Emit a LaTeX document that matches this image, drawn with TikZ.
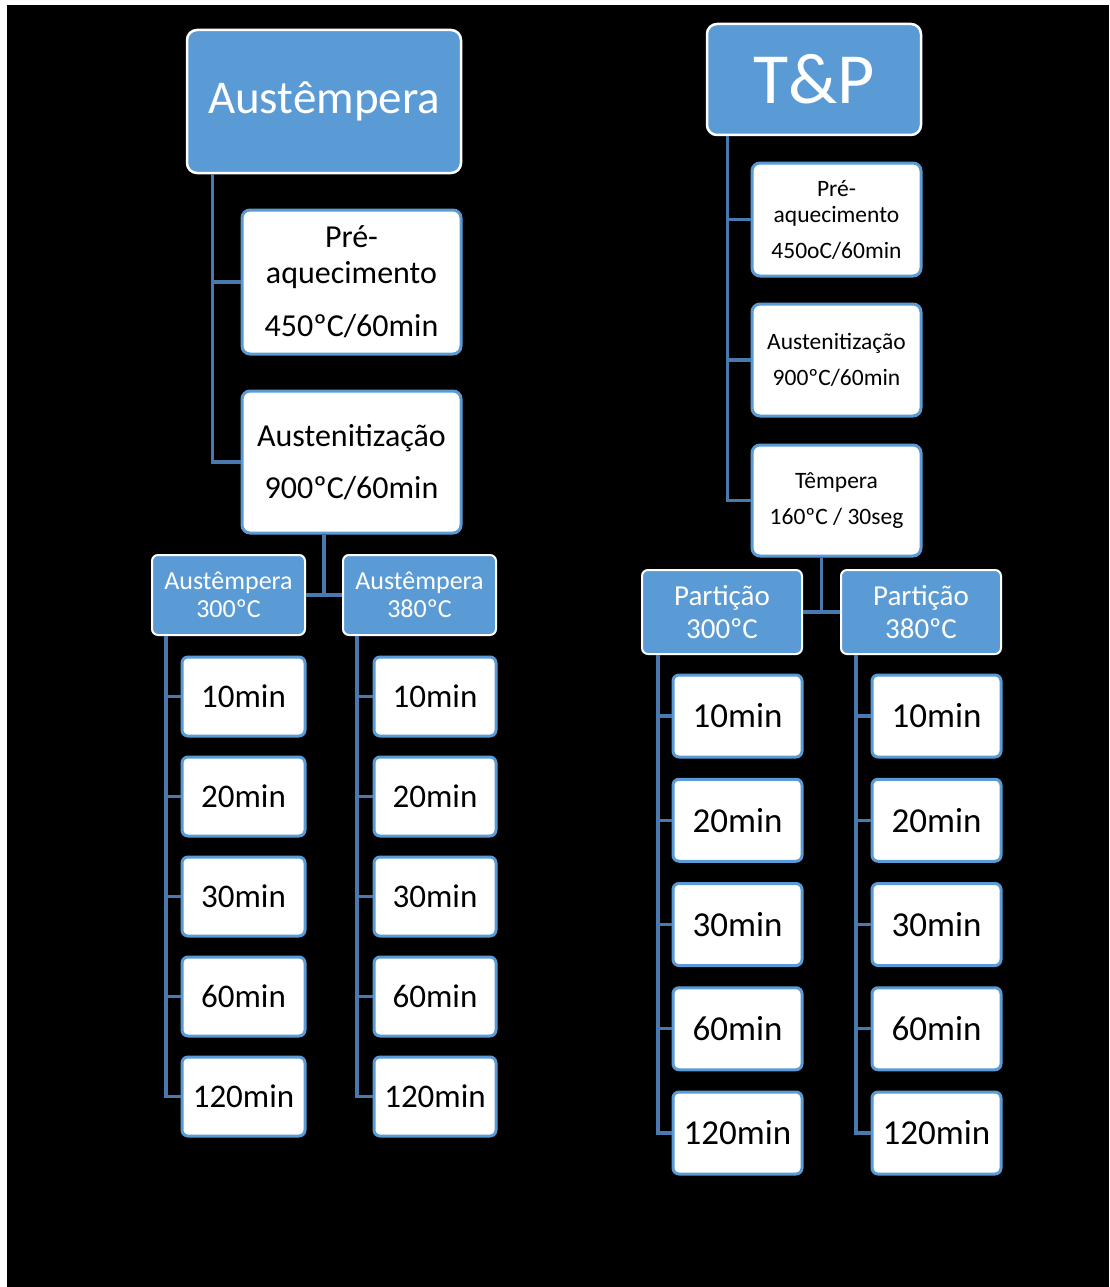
\documentclass[tikz,border=0pt]{standalone}
\usepackage{fontspec}
\setmainfont{Carlito}
\usetikzlibrary{positioning, calc}
\definecolor{boxblue}{RGB}{91,155,213}
\definecolor{linkblue}{RGB}{72,122,176}

\begin{document}
\begin{tikzpicture}[x=1pt, y=-1pt,
    headbox/.style={rectangle, draw=white, fill=boxblue, line width=2.5pt, rounded corners=10pt, text=white, align=center, inner sep=0pt},
    groupbox/.style={rectangle, draw=white, fill=boxblue, line width=2pt, rounded corners=6pt, text=white, align=center, inner sep=0pt},
    stepbox/.style={rectangle, draw=boxblue, fill=white, line width=3pt, rounded corners=8pt, text=black, align=center, inner sep=0pt},
    ltime/.style={stepbox, rounded corners=6pt, minimum width=123pt, minimum height=79pt, font=\fontsize{33}{40}\selectfont},
    rtime/.style={stepbox, rounded corners=6pt, minimum width=129pt, minimum height=82pt, font=\fontsize{35}{42}\selectfont},
    link/.style={draw=linkblue, line width=3.2pt}
]
    % Background
    \useasboundingbox (0,0) rectangle (1109,1287);
    \fill[white] (0,0) rectangle (1109,1287);
    \fill[black] (7,5) rectangle (1109,1287);

    % Austempera tree
    \node[headbox, minimum width=274pt, minimum height=143pt, font=\fontsize{47}{56}\selectfont] (aus) at (324,101.5) {Austêmpera};
    \node[stepbox, minimum width=219pt, minimum height=144pt, font=\fontsize{32}{36}\selectfont] (apre) at (351.5,282) {Pré-\\aquecimento\\[17pt]450ºC/60min};
    \node[stepbox, minimum width=219pt, minimum height=142pt, font=\fontsize{32}{36}\selectfont] (aaus) at (351.5,462) {Austenitização\\[16pt]900ºC/60min};
    \node[groupbox, minimum width=153pt, minimum height=80pt, font=\fontsize{26}{28}\selectfont] (a300) at (228.5,595) {Austêmpera\\300ºC};
    \node[groupbox, minimum width=153pt, minimum height=80pt, font=\fontsize{26}{28}\selectfont] (a380) at (419.5,595) {Austêmpera\\380ºC};

    \node[ltime] (a300m10) at (243.5,696.5) {10min};
    \node[ltime, below of=a300m10, node distance=100pt] (a300m20) {20min};
    \node[ltime, below of=a300m20, node distance=100pt] (a300m30) {30min};
    \node[ltime, below of=a300m30, node distance=100pt] (a300m60) {60min};
    \node[ltime, below of=a300m60, node distance=100pt] (a300m120) {120min};

    \node[ltime, minimum width=122pt] (a380m10) at (435,696.5) {10min};
    \node[ltime, minimum width=122pt, below of=a380m10, node distance=100pt] (a380m20) {20min};
    \node[ltime, minimum width=122pt, below of=a380m20, node distance=100pt] (a380m30) {30min};
    \node[ltime, minimum width=122pt, below of=a380m30, node distance=100pt] (a380m60) {60min};
    \node[ltime, minimum width=122pt, below of=a380m60, node distance=100pt] (a380m120) {120min};

    % T&P tree
    \node[headbox, minimum width=214pt, minimum height=111pt, font=\fontsize{72}{80}\selectfont] (tp) at (814,79.5) {T\&P};
    \node[stepbox, minimum width=169pt, minimum height=113pt, font=\fontsize{23.5}{26}\selectfont] (tpre) at (836.5,219.5) {Pré-\\aquecimento\\[10pt]450oC/60min};
    \node[stepbox, minimum width=169pt, minimum height=112pt, font=\fontsize{23.5}{26}\selectfont] (taus) at (836.5,360) {Austenitização\\[10pt]900ºC/60min};
    \node[stepbox, minimum width=169pt, minimum height=111pt, font=\fontsize{23.5}{26}\selectfont] (ttem) at (836.5,500.5) {Têmpera\\[10pt]160ºC / 30seg};
    \node[groupbox, minimum width=160pt, minimum height=84pt, font=\fontsize{29}{33}\selectfont] (p300) at (722,612) {Partição\\300ºC};
    \node[groupbox, minimum width=160pt, minimum height=84pt, font=\fontsize{29}{33}\selectfont] (p380) at (921,612) {Partição\\380ºC};

    \node[rtime] (p300m10) at (737.5,716) {10min};
    \node[rtime, below of=p300m10, node distance=104.25pt] (p300m20) {20min};
    \node[rtime, below of=p300m20, node distance=104.25pt] (p300m30) {30min};
    \node[rtime, below of=p300m30, node distance=104.25pt] (p300m60) {60min};
    \node[rtime, below of=p300m60, node distance=104.25pt] (p300m120) {120min};

    \node[rtime] (p380m10) at (936.5,716) {10min};
    \node[rtime, below of=p380m10, node distance=104.25pt] (p380m20) {20min};
    \node[rtime, below of=p380m20, node distance=104.25pt] (p380m30) {30min};
    \node[rtime, below of=p380m30, node distance=104.25pt] (p380m60) {60min};
    \node[rtime, below of=p380m60, node distance=104.25pt] (p380m120) {120min};

    % Connectors
    \draw[link] ([xshift=27pt]aus.south west) |- (apre.west);
    \draw[link] ([xshift=27pt]aus.south west) |- (aaus.west);
    \coordinate (amid) at ($(a300.east)!.5!(a380.west)$);
    \draw[link] (a300.east) -- (a380.west);
    \draw[link] (amid) -- (amid |- aaus.south);
    \draw[link] ([xshift=15pt]a300.south west) |- (a300m10.west);
    \draw[link] ([xshift=15pt]a300.south west) |- (a300m20.west);
    \draw[link] ([xshift=15pt]a300.south west) |- (a300m30.west);
    \draw[link] ([xshift=15pt]a300.south west) |- (a300m60.west);
    \draw[link] ([xshift=15pt]a300.south west) |- (a300m120.west);
    \draw[link] ([xshift=15pt]a380.south west) |- (a380m10.west);
    \draw[link] ([xshift=15pt]a380.south west) |- (a380m20.west);
    \draw[link] ([xshift=15pt]a380.south west) |- (a380m30.west);
    \draw[link] ([xshift=15pt]a380.south west) |- (a380m60.west);
    \draw[link] ([xshift=15pt]a380.south west) |- (a380m120.west);

    \draw[link] ([xshift=22pt]tp.south west) |- (tpre.west);
    \draw[link] ([xshift=22pt]tp.south west) |- (taus.west);
    \draw[link] ([xshift=22pt]tp.south west) |- (ttem.west);
    \coordinate (pmid) at ($(p300.east)!.5!(p380.west)$);
    \draw[link] (p300.east) -- (p380.west);
    \draw[link] (pmid) -- (pmid |- ttem.south);
    \draw[link] ([xshift=17pt]p300.south west) |- (p300m10.west);
    \draw[link] ([xshift=17pt]p300.south west) |- (p300m20.west);
    \draw[link] ([xshift=17pt]p300.south west) |- (p300m30.west);
    \draw[link] ([xshift=17pt]p300.south west) |- (p300m60.west);
    \draw[link] ([xshift=17pt]p300.south west) |- (p300m120.west);
    \draw[link] ([xshift=16pt]p380.south west) |- (p380m10.west);
    \draw[link] ([xshift=16pt]p380.south west) |- (p380m20.west);
    \draw[link] ([xshift=16pt]p380.south west) |- (p380m30.west);
    \draw[link] ([xshift=16pt]p380.south west) |- (p380m60.west);
    \draw[link] ([xshift=16pt]p380.south west) |- (p380m120.west);
\end{tikzpicture}
\end{document}
